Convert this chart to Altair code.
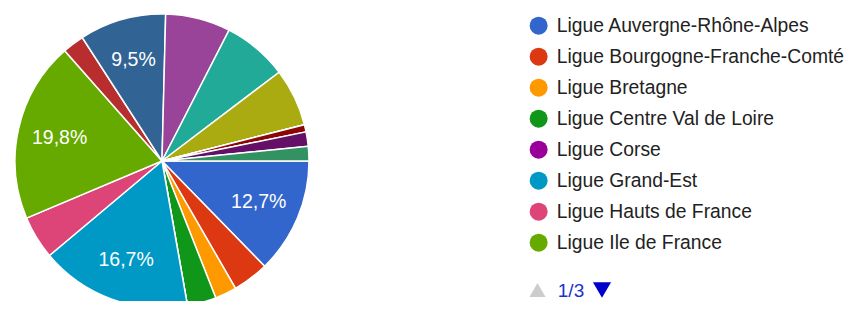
import altair as alt
import pandas as pd

names = [
    "Ligue Auvergne-Rhône-Alpes", "Ligue Bourgogne-Franche-Comté", "Ligue Bretagne",
    "Ligue Centre Val de Loire", "Ligue Corse", "Ligue Grand-Est",
    "Ligue Hauts de France", "Ligue Ile de France", "Ligue La Réunion",
    "Ligue Normandie", "Ligue Nouvelle-Aquitaine", "Ligue Occitanie",
    "Ligue Pays de la Loire", "Ligue Provence-Alpes-Côte d'Azur", "Ligue Guadeloupe",
    "Ligue Guyane", "Ligue Martinique", "Ligue Mayotte",
]
counts = [16, 5, 3, 4, 0, 21, 6, 25, 3, 12, 9, 9, 8, 0, 0, 1, 2, 2]
colors = [
    "#3366cc", "#dc3912", "#ff9900", "#109618", "#990099", "#0099c6",
    "#dd4477", "#66aa00", "#b82e2e", "#316395", "#994499", "#22aa99",
    "#aaaa11", "#6633cc", "#e67300", "#8b0707", "#651067", "#329262",
]
legend_page = names[:8]
pager_text = ["1/3"]

total = sum(counts)
labels = [
    (f"{c / total * 100:.1f}%".replace(".", ",") if c / total >= 0.09 else "")
    for c in counts
]
df = pd.DataFrame({"name": names, "count": counts, "idx": list(range(len(names))), "label": labels})

FONT = "Liberation Sans"

theta = alt.Theta("count:Q", stack=True, scale=alt.Scale(range=[1.5707963, 7.8539816]))
order = alt.Order("idx:Q", sort="ascending")

base = alt.Chart(df)

pie = base.mark_arc(outerRadius=147, stroke="white", strokeWidth=1.5).encode(
    theta=theta,
    order=order,
    x=alt.value(154),
    y=alt.value(153),
    color=alt.Color(
        "name:N",
        scale=alt.Scale(domain=names, range=colors),
        legend=alt.Legend(
            values=legend_page,
            title=None,
            orient="none",
            legendX=521,
            legendY=8,
            symbolType="circle",
            symbolSize=324,
            symbolStrokeWidth=0,
            labelFontSize=19.3,
            labelFont=FONT,
            labelColor="#222222",
            labelOffset=8.5,
            rowPadding=11,
            padding=0,
            labelLimit=400,
        ),
    ),
)

text = base.mark_text(radius=105, fontSize=19.5, font=FONT, color="white").encode(
    theta=theta,
    order=order,
    x=alt.value(154),
    y=alt.value(153),
    text="label:N",
)

pager_df = pd.DataFrame({"t": pager_text})
pager = alt.Chart(pager_df).mark_text(fontSize=19, font=FONT, color="#1a33cc").encode(
    x=alt.value(563), y=alt.value(283), text="t:N"
)
up = alt.Chart(pager_df).mark_point(shape="triangle-up", filled=True, size=260, color="#cccccc", opacity=1).encode(
    x=alt.value(529.5), y=alt.value(282)
)
down = alt.Chart(pager_df).mark_point(shape="triangle-down", filled=True, size=330, color="#0000cc", opacity=1).encode(
    x=alt.value(594), y=alt.value(282)
)

chart = alt.layer(pie, text, pager, up, down).properties(
    width=839, height=293, padding=0, autosize=alt.AutoSizeParams(type="none")
).configure_view(stroke=None)

chart.save("out.html", embed_options={"renderer": "svg", "actions": False})
